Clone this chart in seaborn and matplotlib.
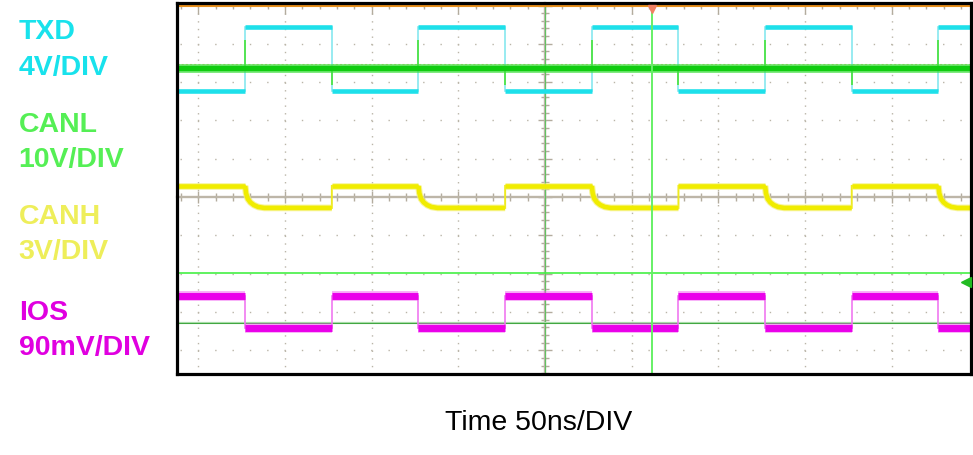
import numpy as np
import pandas as pd
import matplotlib
matplotlib.use("Agg")
import matplotlib.pyplot as plt
import matplotlib.transforms as mtransforms
from matplotlib.ticker import MultipleLocator
import seaborn as sns

# ---------------- data (x in time divisions of 50 ns, y in screen divisions) ----
edge_times = [-3.46, -2.46, -1.46, -0.46, 0.54, 1.54, 2.54, 3.54, 4.54]
x_start, x_end = -4.25, 4.92
txd_states = [0, 1, 0, 1, 0, 1, 0, 1, 0, 1]      # 0 = TXD low, 1 = TXD high

txd_levels = [2.78, 4.43]          # TXD low / high
canl_level = 3.36
canl_spike_rise = 4.10             # glitch at TXD rising edges
canl_spike_fall = 2.92             # glitch at TXD falling edges
canh_levels = [0.29, -0.285]       # CANH for TXD low / high
canh_fall_dt = [0.0, 0.01, 0.03, 0.06, 0.10, 0.15, 0.22]
canh_fall_y = [0.29, 0.10, -0.05, -0.14, -0.21, -0.26, -0.285]
ios_levels = [-2.59, -3.42]        # IOS for TXD low / high

cursor_x = 1.235
trigger_level = -2.21
hline_bright = -1.99
hline_dark = -3.30
canl_ref = 3.47

labels = [("TXD", "4V/DIV"), ("CANL", "10V/DIV"), ("CANH", "3V/DIV"), ("IOS", "90mV/DIV")]
label_colors = ["#18e2ec", "#55ef55", "#eeee5a", "#e000e0"]
label_baselines_px = [(39.3, 75.0), (131.7, 166.7), (224.0, 259.3), (320.0, 355.0)]
xlabel_text = "Time 50ns/DIV"

# ---------------- helpers --------------------------------------------------
def build(levels, curve=None):
    bounds = [x_start] + edge_times + [x_end]
    rows = []
    for i, s in enumerate(txd_states):
        a, b = bounds[i], bounds[i + 1]
        y = levels[s]
        if curve is not None and s == 1 and i > 0:
            for dt, yy in zip(*curve):
                rows.append((a + dt, yy, i))
        else:
            rows.append((a, y, i))
        rows.append((b, y, i))
    return pd.DataFrame(rows, columns=["t", "v", "seg"])


def build_canl():
    rows = [(x_start, canl_level)]
    for j, e in enumerate(edge_times):
        spike = canl_spike_rise if txd_states[j + 1] == 1 else canl_spike_fall
        rows += [(e, canl_level), (e, spike), (e, canl_level)]
    rows.append((x_end, canl_level))
    return pd.DataFrame(rows, columns=["t", "v"])


txd_df = build(txd_levels)
canh_df = build(canh_levels, (canh_fall_dt, canh_fall_y))
ios_df = build(ios_levels)
canl_df = build_canl()

# ---------------- figure ---------------------------------------------------
plt.rcParams["lines.scale_dashes"] = False
plt.rcParams["lines.solid_capstyle"] = "butt"
plt.rcParams["lines.solid_joinstyle"] = "miter"
plt.rcParams["font.family"] = ["Liberation Sans", "DejaVu Sans"]

W, H = 973, 455
fig = plt.figure(figsize=(W / 100, H / 100), dpi=100)
fig.patch.set_facecolor("white")

px_per_div_x = 86.65
px_per_div_y = 38.3
cx, cy = 545.0, 197.0
L, R, T, B = 177.3, 970.5, 2.5, 373.5
rect = [L / W, (H - B) / H, (R - L) / W, (B - T) / H]
xlim = ((L - cx) / px_per_div_x, (R - cx) / px_per_div_x)
ylim = ((cy - B) / px_per_div_y, (cy - T) / px_per_div_y)

# background axes: center cross with ticks
ax0 = fig.add_axes(rect, zorder=0)
ax0.set_xlim(*xlim)
ax0.set_ylim(*ylim)
for s in ["top", "right"]:
    ax0.spines[s].set_visible(False)
ax0.spines["left"].set_position(("data", 0))
ax0.spines["bottom"].set_position(("data", 0))
for s in ["left", "bottom"]:
    ax0.spines[s].set_color("#bdb6a8")
    ax0.spines[s].set_linewidth(1.7)
ax0.xaxis.set_major_locator(MultipleLocator(1))
ax0.xaxis.set_minor_locator(MultipleLocator(0.2))
ax0.yaxis.set_major_locator(MultipleLocator(1))
ax0.yaxis.set_minor_locator(MultipleLocator(0.2))
ax0.tick_params(which="both", direction="inout", colors="#b3ac9e",
                labelbottom=False, labelleft=False, width=1.0)
ax0.tick_params(axis="x", which="major", length=8.5)
ax0.tick_params(axis="x", which="minor", length=5.5)
ax0.tick_params(axis="y", which="major", length=9.5)
ax0.tick_params(axis="y", which="minor", length=5.5)
ax0.patch.set_facecolor("white")

# main axes
ax = fig.add_axes(rect, zorder=1)
ax.patch.set_alpha(0)
ax.set_xlim(*xlim)
ax.set_ylim(*ylim)
ax.set_axisbelow(True)
ax.xaxis.set_major_locator(MultipleLocator(1))
ax.xaxis.set_minor_locator(MultipleLocator(0.2))
ax.yaxis.set_major_locator(MultipleLocator(1))
ax.tick_params(axis="x", which="both", top=True, bottom=False, direction="in",
               labeltop=False, labelbottom=False, colors="#b3ac9e", width=1.0)
ax.tick_params(axis="x", which="major", length=8)
ax.tick_params(axis="x", which="minor", length=4)
ax.tick_params(axis="y", which="both", left=False, right=False,
               labelleft=False, labelright=False)

# dotted grid
pt = 0.72
vper = 0.2 * px_per_div_y * pt
hper = 0.2 * px_per_div_x * pt
dot = 1.0
v_off = (0.75 - ((-4.6 - ylim[0]) * px_per_div_y)) * pt % vper
h_off = (0.75 - ((-4.2 - xlim[0]) * px_per_div_x)) * pt % hper
ax.xaxis.grid(True, which="major", color="#bab5a8", linewidth=1.0,
              linestyle=(v_off, (dot, vper - dot)))
ax.yaxis.grid(True, which="major", color="#bab5a8", linewidth=1.0,
              linestyle=(h_off, (dot, hper - dot)))

for s in ax.spines.values():
    s.set_color("black")
    s.set_linewidth(2.3)
    s.set_zorder(10)

# reference / cursor lines
ax.axhline(5.0, color="#e8901c", lw=1.5, zorder=3)
ax.axvline(0, color="#62c262", lw=0.8, zorder=2.2)
ax.axvline(cursor_x, color="#66f066", lw=1.4, zorder=4)
ax.axhline(hline_bright, color="#44f044", lw=1.2, zorder=2.2)
ax.axhline(hline_dark, color="#a8dca8", lw=1.6, zorder=2.2)
ax.axhline(hline_dark, color="#3fa63f", lw=0.7, zorder=2.3)
ax.axhline(canl_ref, color="#f0b498", lw=0.8, ls=(0, (1.5, 1.5)), zorder=2.1)

# traces
sns.lineplot(data=txd_df, x="t", y="v", estimator=None, sort=False, ax=ax,
             color="#86e8ef", linewidth=1.2, zorder=2.5)
sns.lineplot(data=txd_df, x="t", y="v", units="seg", estimator=None, sort=False,
             ax=ax, color="#1ee0ea", linewidth=3.3, zorder=2.6)

sns.lineplot(data=canl_df, x="t", y="v", estimator=None, sort=False, ax=ax,
             color="#56e456", linewidth=1.1, zorder=2.7)
sns.lineplot(data=canl_df.iloc[[0, -1]], x="t", y="v", estimator=None, sort=False,
             ax=ax, color="#40e040", linewidth=6.3, alpha=0.75, zorder=2.8)
sns.lineplot(data=canl_df.iloc[[0, -1]], x="t", y="v", estimator=None, sort=False,
             ax=ax, color="#10cc10", linewidth=3.8, zorder=2.9)

sns.lineplot(data=canh_df, x="t", y="v", estimator=None, sort=False, ax=ax,
             color="#eeea20", linewidth=1.4, zorder=2.5)
sns.lineplot(data=canh_df, x="t", y="v", units="seg", estimator=None, sort=False,
             ax=ax, color="#f4f070", linewidth=4.8, alpha=0.7, zorder=2.55)
sns.lineplot(data=canh_df, x="t", y="v", units="seg", estimator=None, sort=False,
             ax=ax, color="#f0ec00", linewidth=3.3, zorder=2.6)

sns.lineplot(data=ios_df, x="t", y="v", estimator=None, sort=False, ax=ax,
             color="#f078f0", linewidth=1.2, zorder=2.5)
sns.lineplot(data=ios_df, x="t", y="v", units="seg", estimator=None, sort=False,
             ax=ax, color="#f050f0", linewidth=7.0, alpha=0.5, zorder=2.55)
sns.lineplot(data=ios_df, x="t", y="v", units="seg", estimator=None, sort=False,
             ax=ax, color="#ea00ea", linewidth=5.0, zorder=2.6)

ax.set_xlabel("")
ax.set_ylabel("")

# markers
trans_right = mtransforms.blended_transform_factory(ax.transAxes, ax.transData)
ax.plot([0.9945], [trigger_level], marker="<", ms=6.5, color="#22bb22",
        transform=trans_right, clip_on=False, zorder=11, ls="none")
ax.plot([cursor_x], [4.92], marker="v", ms=6.0, color="#f08062",
        clip_on=False, zorder=11, ls="none")

# left labels
for (l1, l2), c, (b1, b2) in zip(labels, label_colors, label_baselines_px):
    fig.text(18.7 / W, 1 - b1 / H, l1, color=c, fontsize=20.5, fontweight="bold",
             ha="left", va="baseline")
    fig.text(18.7 / W, 1 - b2 / H, l2, color=c, fontsize=20.5, fontweight="bold",
             ha="left", va="baseline")

fig.text(538.5 / W, 1 - 430 / H, xlabel_text, color="black", fontsize=20.5,
         ha="center", va="baseline")

fig.savefig("out.png", dpi=100, facecolor="white")
